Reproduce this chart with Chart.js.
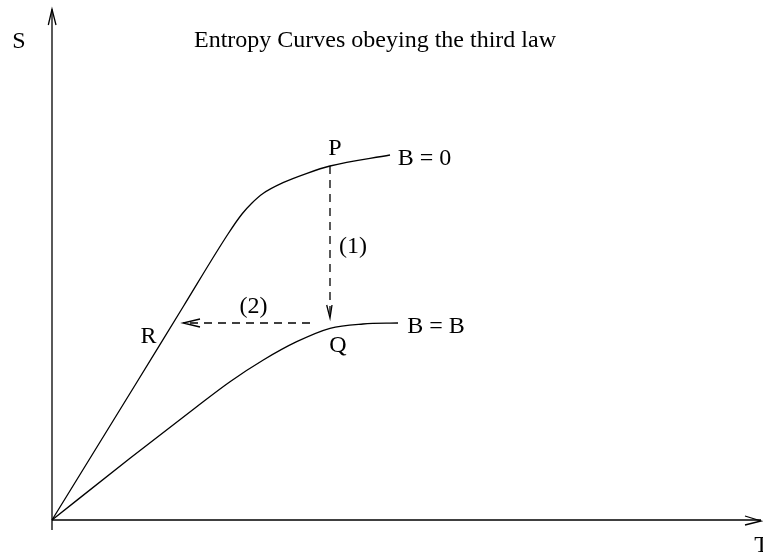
<!DOCTYPE html>
<html>
<head>
<meta charset="utf-8">
<script src="https://cdn.jsdelivr.net/npm/chart.js@4/dist/chart.umd.min.js"></script>
<style>
  html, body { margin: 0; padding: 0; background: #fff; }
  canvas { display: block; }
</style>
</head>
<body>
<canvas id="entropyChart" width="763" height="552"></canvas>
<script>
// 曲線 B = 0 (T, S)
const b0T = [0, 0.85, 1.31, 1.76, 1.90, 2.00, 2.11, 2.31, 2.55, 2.78, 3.38];
const b0S = [0, 1.38, 2.13, 2.86, 3.06, 3.17, 3.265, 3.373, 3.467, 3.54, 3.65];

// 曲線 B = B
const bbT = [0, 0.78, 1.447, 1.78, 2.113, 2.447, 2.78, 3.11, 3.46];
const bbS = [0, 0.617, 1.133, 1.383, 1.60, 1.783, 1.917, 1.96, 1.97];

// (1) P -> Q (断熱消磁)
const step1T = [2.78, 2.78];
const step1S = [3.54, 2.02];
const head1T = [2.747, 2.78, 2.80];
const head1S = [2.15, 2.02, 2.15];

// (2) Q -> R (等エントロピー)
const step2T = [2.58, 1.33];
const step2S = [1.97, 1.97];
const head2T = [1.48, 1.31, 1.48];
const head2S = [2.01, 1.97, 1.93];

// 軸 (矢印つき)
const yAxisT = [0, 0];
const yAxisS = [-0.10, 5.107];
const yHeadT = [-0.037, 0, 0.04];
const yHeadS = [4.95, 5.107, 4.95];
const xAxisT = [0, 7.09];
const xAxisS = [0, 0];
const xHeadT = [6.93, 7.09, 6.93];
const xHeadS = [0.04, -0.01, -0.05];

// ラベル
const labelTexts = ['S', 'Entropy Curves obeying the third law', 'P', 'B = 0', '(1)', '(2)', 'R', 'Q', 'B = B', 'T'];
const labelT = [-0.33, 3.23, 2.83, 3.725, 3.01, 2.015, 0.965, 2.86, 3.84, 7.095];
const labelS = [4.72, 4.727, 3.65, 3.55, 2.67, 2.07, 1.77, 1.68, 1.87, -0.32];

function pts(xs, ys) {
    return xs.map((x, i) => ({ x: x, y: ys[i] }));
}

function lineSet(xs, ys, dashed, smooth) {
    return {
        data: pts(xs, ys),
        borderColor: '#000',
        borderWidth: 1.3,
        borderDash: dashed ? [8, 6] : [],
        pointRadius: 0,
        fill: false,
        cubicInterpolationMode: smooth ? 'monotone' : 'default',
        tension: 0
    };
}

// テキスト描画プラグイン
const labelPlugin = {
    id: 'labels',
    afterDatasetsDraw(chart) {
        const c = chart.ctx;
        const sx = chart.scales.x;
        const sy = chart.scales.y;
        c.save();
        c.fillStyle = '#000';
        c.font = '24px "Liberation Serif", "Times New Roman", serif';
        c.textAlign = 'center';
        c.textBaseline = 'alphabetic';
        labelTexts.forEach((t, i) => {
            c.fillText(t, sx.getPixelForValue(labelT[i]), sy.getPixelForValue(labelS[i]));
        });
        c.restore();
    }
};

const ctx = document.getElementById('entropyChart');
if (ctx) {
    new Chart(ctx, {
        type: 'line',
        data: {
            datasets: [
                lineSet(yAxisT, yAxisS, false, false),
                lineSet(yHeadT, yHeadS, false, false),
                lineSet(xAxisT, xAxisS, false, false),
                lineSet(xHeadT, xHeadS, false, false),
                lineSet(b0T, b0S, false, true),
                lineSet(bbT, bbS, false, true),
                lineSet(step1T, step1S, true, false),
                lineSet(head1T, head1S, false, false),
                lineSet(step2T, step2S, true, false),
                lineSet(head2T, head2S, false, false)
            ]
        },
        options: {
            responsive: false,
            animation: false,
            devicePixelRatio: 1,
            layout: { padding: 0 },
            scales: {
                x: { type: 'linear', min: -0.52, max: 7.11, display: false },
                y: { type: 'linear', min: -0.32, max: 5.20, display: false }
            },
            plugins: {
                legend: { display: false },
                title: { display: false },
                tooltip: { enabled: false }
            }
        },
        plugins: [labelPlugin]
    });
} else {
    console.error("canvas要素が見つかりません。");
}
</script>
</body>
</html>
